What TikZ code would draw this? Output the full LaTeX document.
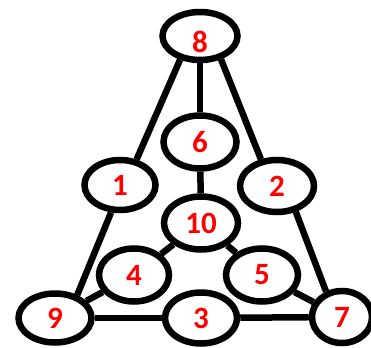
\documentclass[tikz,border=0pt]{standalone}
\usepackage{fontspec}
\setmainfont{Carlito}
\usetikzlibrary{shapes.geometric}
\definecolor{numred}{HTML}{FF0000}
\tikzset{
  vert/.style={ellipse, draw=black, line width=6.5pt, fill=white, inner sep=0pt,
    minimum width=73pt, minimum height=51pt, text=numred,
    font=\fontsize{31}{31}\selectfont\bfseries},
  edge/.style={line width=6.5pt, black}
}
\begin{document}
\begin{tikzpicture}[x=1pt,y=-1pt]
\useasboundingbox (0,0) rectangle (371,347);
\node[vert, minimum width=75pt, minimum height=48pt] (n8) at (200,36) {\raisebox{-6pt}[\height][\depth]{8}};
\node[vert, minimum height=53pt] (n6) at (200,142) {6};
\node[vert, minimum width=71pt, minimum height=50pt] (n1) at (120,185) {1};
\node[vert, minimum width=74pt, minimum height=52pt] (n2) at (277,186) {2};
\node[vert, minimum width=74pt, minimum height=53pt] (n10) at (201,223) {10};
\node[vert, minimum width=70pt, minimum height=53pt] (n4) at (134,275) {4};
\node[vert, minimum width=72pt, minimum height=53pt] (n5) at (262,275) {5};
\node[vert, minimum width=73pt, minimum height=49pt] (n9) at (55,318) {9};
\node[vert, minimum width=72pt, minimum height=51pt] (n3) at (201,318) {3};
\node[vert, minimum width=60pt, minimum height=52pt] (n7) at (342,317) {7};
\draw[edge] (n8.230) -- (n1.57);
\draw[edge] (n8) -- (n6);
\draw[edge] (n8.312) -- (n2.121);
\draw[edge] (n6) -- (n10);
\draw[edge] (n1.252) -- (n9.46);
\draw[edge] (n2.306) -- (n7.122);
\draw[edge] (n10) -- (n4);
\draw[edge] (n10) -- (n5);
\draw[edge] (n4) -- (n9);
\draw[edge] (n5) -- (n7);
\draw[edge] (n9) -- (n3);
\draw[edge] (n3) -- (n7);
\end{tikzpicture}
\end{document}
